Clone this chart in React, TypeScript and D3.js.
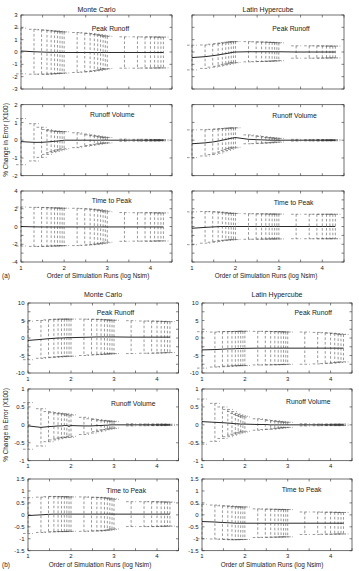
import * as React from 'react';
import * as d3 from 'd3';

// simulation run counts (x = log10 Nsim)
const nsim = [10, 20, 30, 40, 50, 60, 70, 80, 90, 100, 200, 300, 400, 500, 600, 700, 800, 900, 1000, 2500, 5000, 7500, 10000, 12500, 15000, 17500, 20000];

const xTicks = [1, 2, 3, 4];
const xMinor = [1.5, 2.5, 3.5, 4.5];

// (a) Monte Carlo
const aMcPeakMean = [0.08, 0.02, 0, -0.02, -0.03, -0.03, -0.03, -0.04, -0.04, -0.04, -0.04, -0.04, -0.04, -0.04, -0.04, -0.04, -0.04, -0.04, -0.04, -0.04, -0.04, -0.04, -0.04, -0.04, -0.04, -0.04, -0.04];
const aMcPeakErr = [1.85, 1.82, 1.8, 1.78, 1.76, 1.74, 1.72, 1.7, 1.68, 1.66, 1.62, 1.58, 1.54, 1.5, 1.46, 1.42, 1.38, 1.34, 1.3, 1.27, 1.27, 1.26, 1.26, 1.26, 1.25, 1.25, 1.25];
const aMcVolMean = [-0.08, -0.12, -0.12, -0.1, -0.08, -0.06, -0.05, -0.03, -0.02, 0, 0, 0, 0, 0, 0, 0, 0, 0, 0, 0, 0, 0, 0, 0, 0, 0, 0];
const aMcVolErr = [1.3, 1.05, 0.85, 0.7, 0.62, 0.58, 0.55, 0.52, 0.5, 0.48, 0.42, 0.35, 0.3, 0.26, 0.23, 0.2, 0.18, 0.16, 0.15, 0.06, 0.05, 0.05, 0.04, 0.04, 0.04, 0.03, 0.03];
const aMcTimeMean = [0, -0.04, -0.05, -0.05, -0.05, -0.05, -0.05, -0.05, -0.05, -0.05, -0.05, -0.05, -0.05, -0.05, -0.05, -0.05, -0.05, -0.05, -0.05, -0.05, -0.05, -0.05, -0.05, -0.05, -0.05, -0.05, -0.05];
const aMcTimeErr = [2.2, 2.2, 2.2, 2.18, 2.16, 2.15, 2.14, 2.13, 2.12, 2.1, 2.1, 2.06, 2.02, 1.98, 1.94, 1.9, 1.85, 1.8, 1.72, 1.62, 1.6, 1.6, 1.6, 1.6, 1.58, 1.58, 1.58];

// (a) Latin Hypercube
const aLhPeakMean = [-0.45, -0.38, -0.3, -0.24, -0.18, -0.13, -0.09, -0.05, -0.02, 0, 0.02, 0.02, 0.02, 0.02, 0.02, 0.02, 0.02, 0.02, 0.02, 0, 0, 0, 0, 0, 0, 0, 0];
const aLhPeakErr = [1.0, 0.95, 0.93, 0.92, 0.9, 0.89, 0.88, 0.87, 0.86, 0.85, 0.82, 0.8, 0.79, 0.78, 0.77, 0.76, 0.75, 0.74, 0.72, 0.5, 0.5, 0.5, 0.49, 0.49, 0.48, 0.48, 0.48];
const aLhVolMean = [-0.2, -0.15, -0.1, -0.05, 0, 0.04, 0.08, 0.11, 0.13, 0.15, 0.05, 0.03, 0.02, 0.01, 0, 0, 0, 0, 0, 0, 0, 0, 0, 0, 0, 0, 0];
const aLhVolErr = [0.78, 0.74, 0.71, 0.68, 0.65, 0.62, 0.6, 0.58, 0.56, 0.55, 0.25, 0.22, 0.19, 0.17, 0.15, 0.14, 0.12, 0.11, 0.1, 0.05, 0.04, 0.04, 0.04, 0.03, 0.03, 0.03, 0.03];
const aLhTimeMean = [-0.2, -0.1, -0.05, -0.02, 0, 0, 0, 0, 0, 0, 0, 0, 0, 0, 0, 0, 0, 0, 0, 0, 0, 0, 0, 0, 0, 0, 0];
const aLhTimeErr = [1.85, 1.78, 1.72, 1.66, 1.6, 1.56, 1.52, 1.5, 1.48, 1.46, 1.44, 1.43, 1.42, 1.42, 1.41, 1.4, 1.4, 1.4, 1.4, 1.38, 1.38, 1.38, 1.38, 1.38, 1.38, 1.38, 1.38];

// (b) Monte Carlo
const bMcPeakMean = [-0.7, -0.4, -0.2, -0.1, 0, 0, 0.05, 0.1, 0.1, 0.1, 0.2, 0.25, 0.3, 0.3, 0.3, 0.3, 0.3, 0.3, 0.3, 0.25, 0.25, 0.25, 0.25, 0.25, 0.25, 0.25, 0.25];
const bMcPeakErr = [5.5, 5.4, 5.4, 5.4, 5.4, 5.35, 5.35, 5.3, 5.3, 5.3, 5.2, 5.1, 5.05, 5.0, 4.95, 4.9, 4.85, 4.8, 4.75, 4.7, 4.6, 4.6, 4.55, 4.5, 4.5, 4.45, 4.4];
const bMcVolMean = [-0.03, -0.07, -0.05, -0.04, -0.03, -0.03, -0.02, -0.02, -0.04, -0.02, -0.03, -0.03, -0.02, -0.02, -0.01, -0.01, 0, 0, 0, 0, 0, 0, 0, 0, 0, 0, 0];
const bMcVolErr = [0.65, 0.52, 0.42, 0.38, 0.36, 0.34, 0.33, 0.32, 0.31, 0.3, 0.24, 0.2, 0.17, 0.15, 0.13, 0.12, 0.11, 0.1, 0.09, 0.03, 0.025, 0.02, 0.02, 0.02, 0.02, 0.015, 0.015];
const bMcTimeMean = [-0.03, 0, 0.02, 0.03, 0.03, 0.03, 0.03, 0.03, 0.03, 0.03, 0.03, 0.03, 0.03, 0.03, 0.03, 0.03, 0.03, 0.03, 0.03, 0.03, 0.03, 0.03, 0.03, 0.03, 0.03, 0.03, 0.03];
const bMcTimeErr = [0.75, 0.74, 0.74, 0.74, 0.73, 0.73, 0.73, 0.73, 0.72, 0.72, 0.72, 0.71, 0.7, 0.7, 0.69, 0.68, 0.66, 0.64, 0.62, 0.52, 0.52, 0.52, 0.52, 0.51, 0.51, 0.51, 0.5];

// (b) Latin Hypercube
const bLhPeakMean = [-3.4, -3.3, -3.2, -3.1, -3.1, -3.05, -3, -3, -3, -2.95, -2.9, -2.9, -2.9, -2.9, -2.9, -2.9, -2.9, -2.9, -2.9, -2.9, -2.9, -2.9, -2.9, -2.9, -2.9, -2.9, -2.9];
const bLhPeakErr = [5.2, 5.0, 5.0, 4.95, 4.95, 4.9, 4.9, 4.9, 4.9, 4.9, 4.8, 4.8, 4.75, 4.75, 4.7, 4.7, 4.7, 4.65, 4.6, 4.6, 4.5, 4.4, 4.3, 4.2, 4.1, 4.0, 3.9];
const bLhVolMean = [0.09, 0.07, 0.06, 0.05, 0.04, 0.03, 0.03, 0.02, 0.02, 0.02, 0.01, 0.01, 0, 0, 0, 0, 0, 0, 0, 0, 0, 0, 0, 0, 0, 0, 0];
const bLhVolErr = [0.63, 0.53, 0.44, 0.38, 0.33, 0.29, 0.26, 0.24, 0.22, 0.2, 0.16, 0.14, 0.12, 0.11, 0.1, 0.09, 0.08, 0.075, 0.07, 0.03, 0.025, 0.02, 0.02, 0.02, 0.02, 0.02, 0.02];
const bLhTimeMean = [-0.28, -0.3, -0.32, -0.33, -0.34, -0.35, -0.35, -0.35, -0.35, -0.35, -0.35, -0.35, -0.35, -0.35, -0.35, -0.35, -0.35, -0.35, -0.35, -0.35, -0.35, -0.35, -0.35, -0.35, -0.35, -0.35, -0.35];
const bLhTimeErr = [0.72, 0.71, 0.7, 0.7, 0.7, 0.69, 0.69, 0.68, 0.68, 0.68, 0.6, 0.59, 0.59, 0.58, 0.58, 0.58, 0.57, 0.57, 0.57, 0.47, 0.47, 0.46, 0.46, 0.46, 0.45, 0.45, 0.45];

const font = '"Liberation Sans", Arial, Helvetica, sans-serif';
const ink = '#333';

interface PanelProps {
  left: number;
  right: number;
  top: number;
  bottom: number;
  yMax: number;
  yStep: number;
  yMinorStep?: number;
  showY: boolean;
  showX: boolean;
  mean: number[];
  err: number[];
  label: string;
  labelX: number;
  labelDy: number;
}

function Panel(p: PanelProps) {
  const x = d3.scaleLinear().domain([1, 4.5]).range([p.left, p.right]);
  const y = d3.scaleLinear().domain([-p.yMax, p.yMax]).range([p.bottom, p.top]);
  const yTicks = d3.range(-p.yMax, p.yMax + 1e-9, p.yStep).map(v => +v.toFixed(3));
  const yMinor = p.yMinorStep
    ? d3.range(-p.yMax, p.yMax + 1e-9, p.yMinorStep).map(v => +v.toFixed(3)).filter(v => !yTicks.includes(v))
    : [];
  const pts = nsim.map((n, i) => ({ lx: Math.log10(n), m: p.mean[i], e: p.err[i] }));
  const line = d3.line<{ lx: number; m: number }>().x(d => x(d.lx)).y(d => y(d.m));
  const tl = 2.5;
  const cap = 5;

  return (
    <g>
      <rect x={p.left} y={p.top} width={p.right - p.left} height={p.bottom - p.top} fill="none" stroke={ink} strokeWidth={0.7} />
      {xTicks.concat(xMinor).map(t => (
        <g key={'x' + t}>
          <line x1={x(t)} x2={x(t)} y1={p.bottom} y2={p.bottom - tl} stroke={ink} strokeWidth={0.6} />
          <line x1={x(t)} x2={x(t)} y1={p.top} y2={p.top + tl} stroke={ink} strokeWidth={0.6} />
        </g>
      ))}
      {yTicks.concat(yMinor).map(t => (
        <g key={'y' + t}>
          <line x1={p.left} x2={p.left + tl} y1={y(t)} y2={y(t)} stroke={ink} strokeWidth={0.6} />
          <line x1={p.right} x2={p.right - tl} y1={y(t)} y2={y(t)} stroke={ink} strokeWidth={0.6} />
        </g>
      ))}
      {p.showX && xTicks.map(t => (
        <text key={'xl' + t} x={x(t)} y={p.bottom + 7.5} fontSize={6} textAnchor="middle" fill="#222" fontFamily={font}>{t}</text>
      ))}
      {p.showY && yTicks.map(t => (
        <text key={'yl' + t} x={p.left - 3.5} y={y(t) + 2.1} fontSize={6} textAnchor="end" fill="#222" fontFamily={font}>{String(t)}</text>
      ))}
      <g stroke="#444" strokeWidth={0.55} strokeDasharray="2.6,2" fill="none">
        {pts.map((d, i) => (
          <g key={i}>
            <line x1={x(d.lx)} x2={x(d.lx)} y1={y(d.m + d.e)} y2={y(d.m - d.e)} />
            <line x1={x(d.lx) - cap} x2={x(d.lx) + cap} y1={y(d.m + d.e)} y2={y(d.m + d.e)} />
            <line x1={x(d.lx) - cap} x2={x(d.lx) + cap} y1={y(d.m - d.e)} y2={y(d.m - d.e)} />
          </g>
        ))}
      </g>
      <path d={line(pts) || ''} fill="none" stroke="#111" strokeWidth={0.9} />
      <text x={x(p.labelX)} y={p.top + p.labelDy} fontSize={6.8} fill="#222" fontFamily={font}>{p.label}</text>
    </g>
  );
}

export default function App() {
  const aCols = [{ left: 21, right: 172 }, { left: 192, right: 344 }];
  const bCols = [{ left: 28, right: 178.5 }, { left: 202, right: 352 }];
  const aRows = [{ top: 15, bottom: 89 }, { top: 104.7, bottom: 175.7 }, { top: 191, bottom: 262 }];
  const bRows = [{ top: 303, bottom: 373 }, { top: 389, bottom: 460.7 }, { top: 479, bottom: 550.7 }];

  return (
    <svg width={359} height={571} style={{ position: 'absolute', left: 0, top: 0, background: '#fff' }}>
      {/* (a) */}
      <text x={96.5} y={12} fontSize={7} textAnchor="middle" fill="#222" fontFamily={font}>Monte Carlo</text>
      <text x={268} y={12} fontSize={7} textAnchor="middle" fill="#222" fontFamily={font}>Latin Hypercube</text>
      <Panel {...aCols[0]} {...aRows[0]} yMax={3} yStep={1} showY showX={false} mean={aMcPeakMean} err={aMcPeakErr} label="Peak Runoff" labelX={2.64} labelDy={16} />
      <Panel {...aCols[1]} {...aRows[0]} yMax={3} yStep={1} showY={false} showX={false} mean={aLhPeakMean} err={aLhPeakErr} label="Peak Runoff" labelX={2.85} labelDy={16} />
      <Panel {...aCols[0]} {...aRows[1]} yMax={2} yStep={1} showY showX={false} mean={aMcVolMean} err={aMcVolErr} label="Runoff Volume" labelX={2.6} labelDy={12.5} />
      <Panel {...aCols[1]} {...aRows[1]} yMax={2} yStep={1} showY={false} showX={false} mean={aLhVolMean} err={aLhVolErr} label="Runoff Volume" labelX={2.85} labelDy={13} />
      <Panel {...aCols[0]} {...aRows[2]} yMax={4} yStep={2} yMinorStep={1} showY showX mean={aMcTimeMean} err={aMcTimeErr} label="Time to Peak" labelX={2.64} labelDy={12} />
      <Panel {...aCols[1]} {...aRows[2]} yMax={4} yStep={2} yMinorStep={1} showY={false} showX mean={aLhTimeMean} err={aLhTimeErr} label="Time to Peak" labelX={2.88} labelDy={14} />
      <text x={98} y={278} fontSize={6.4} textAnchor="middle" fill="#222" fontFamily={font}>Order of Simulation Runs (log Nsim)</text>
      <text x={266} y={278} fontSize={6.4} textAnchor="middle" fill="#222" fontFamily={font}>Order of Simulation Runs (log Nsim)</text>
      <text x={2} y={278} fontSize={6.4} fill="#222" fontFamily={font}>(a)</text>
      <text transform="translate(7.5,140) rotate(-90)" fontSize={6.4} textAnchor="middle" fill="#222" fontFamily={font}>% Change in Error (X100)</text>

      {/* (b) */}
      <text x={103} y={296.5} fontSize={7} textAnchor="middle" fill="#222" fontFamily={font}>Monte Carlo</text>
      <text x={277} y={296.5} fontSize={7} textAnchor="middle" fill="#222" fontFamily={font}>Latin Hypercube</text>
      <Panel {...bCols[0]} {...bRows[0]} yMax={10} yStep={5} yMinorStep={2.5} showY showX mean={bMcPeakMean} err={bMcPeakErr} label="Peak Runoff" labelX={2.6} labelDy={12} />
      <Panel {...bCols[1]} {...bRows[0]} yMax={10} yStep={5} yMinorStep={2.5} showY showX mean={bLhPeakMean} err={bLhPeakErr} label="Peak Runoff" labelX={3.16} labelDy={12} />
      <Panel {...bCols[0]} {...bRows[1]} yMax={1} yStep={0.5} showY showX mean={bMcVolMean} err={bMcVolErr} label="Runoff Volume" labelX={2.93} labelDy={16.5} />
      <Panel {...bCols[1]} {...bRows[1]} yMax={1} yStep={0.5} showY showX mean={bLhVolMean} err={bLhVolErr} label="Runoff Volume" labelX={2.96} labelDy={15} />
      <Panel {...bCols[0]} {...bRows[2]} yMax={1.5} yStep={0.5} showY showX mean={bMcTimeMean} err={bMcTimeErr} label="Time to Peak" labelX={2.82} labelDy={13.5} />
      <Panel {...bCols[1]} {...bRows[2]} yMax={1.5} yStep={0.5} showY showX mean={bLhTimeMean} err={bLhTimeErr} label="Time to Peak" labelX={2.86} labelDy={12.5} />
      <text x={100} y={566.5} fontSize={6.4} textAnchor="middle" fill="#222" fontFamily={font}>Order of Simulation Runs (log Nsim)</text>
      <text x={272} y={566.5} fontSize={6.4} textAnchor="middle" fill="#222" fontFamily={font}>Order of Simulation Runs (log Nsim)</text>
      <text x={2} y={566.5} fontSize={6.4} fill="#222" fontFamily={font}>(b)</text>
      <text transform="translate(7.5,425) rotate(-90)" fontSize={6.4} textAnchor="middle" fill="#222" fontFamily={font}>% Change in Error (X100)</text>
    </svg>
  );
}
